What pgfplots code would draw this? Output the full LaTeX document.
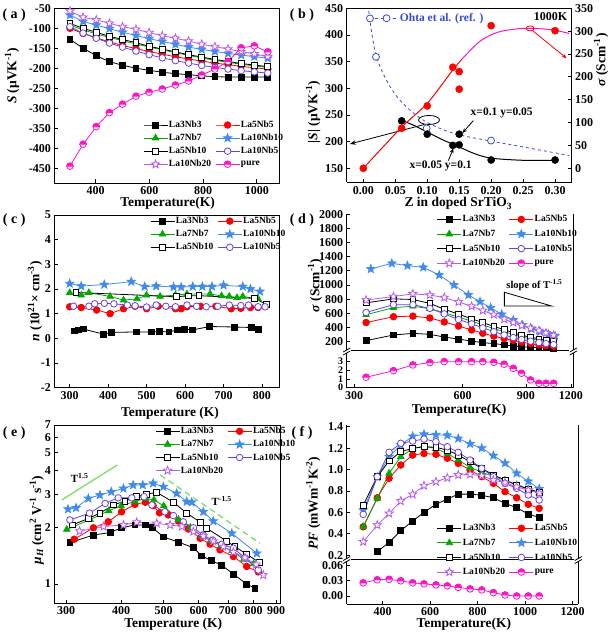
\documentclass[border=0pt]{standalone}
\usepackage{fontspec}
\setmainfont{Liberation Serif}
\usepackage{pgfplots}
\pgfplotsset{compat=1.18}
\usetikzlibrary{plotmarks,arrows.meta}

\definecolor{cRed}{RGB}{255,0,0}
\definecolor{cGreen}{RGB}{0,170,0}
\definecolor{cBlue}{RGB}{65,140,235}
\definecolor{cVio}{RGB}{100,65,225}
\definecolor{cLil}{RGB}{180,90,240}
\definecolor{cPure}{RGB}{255,20,200}
\definecolor{cOhta}{RGB}{55,75,215}
\definecolor{cLG}{RGB}{120,225,100}

\pgfdeclareplotmark{starx}{%
  \pgfpathmoveto{\pgfpointpolar{90}{\pgfplotmarksize}}%
  \pgfpathlineto{\pgfpointpolar{126}{0.42\pgfplotmarksize}}%
  \pgfpathlineto{\pgfpointpolar{162}{\pgfplotmarksize}}%
  \pgfpathlineto{\pgfpointpolar{198}{0.42\pgfplotmarksize}}%
  \pgfpathlineto{\pgfpointpolar{234}{\pgfplotmarksize}}%
  \pgfpathlineto{\pgfpointpolar{270}{0.42\pgfplotmarksize}}%
  \pgfpathlineto{\pgfpointpolar{306}{\pgfplotmarksize}}%
  \pgfpathlineto{\pgfpointpolar{342}{0.42\pgfplotmarksize}}%
  \pgfpathlineto{\pgfpointpolar{18}{\pgfplotmarksize}}%
  \pgfpathlineto{\pgfpointpolar{54}{0.42\pgfplotmarksize}}%
  \pgfpathclose
  \pgfusepathqfillstroke
}
\pgfdeclareplotmark{halfpure}{%
  \pgfpathcircle{\pgfpointorigin}{\pgfplotmarksize}%
  \pgfsetfillcolor{white}%
  \pgfusepathqfillstroke
  \pgfpathmoveto{\pgfqpoint{\pgfplotmarksize}{0pt}}%
  \pgfpatharc{0}{180}{\pgfplotmarksize}%
  \pgfpathclose
  \pgfsetfillcolor{cPure}%
  \pgfusepathqfillstroke
}

\pgfplotsset{
 base/.style={
   scale only axis, anchor=south west, clip=false,
   tick align=inside, tick pos=left,
   major tick length=3.5pt, minor tick length=0pt,
   scaled ticks=false,
   axis line style={line width=0.9pt},
   every tick/.style={black, line width=0.8pt},
   tick label style={font=\bfseries\fontsize{12}{12}\selectfont},
   label style={font=\bfseries\fontsize{13.5}{14}\selectfont},
   /pgf/number format/assume math mode=true,
   /pgf/number format/1000 sep={},
   legend cell align=left, legend columns=2,
   legend style={draw=none, fill=none, inner sep=0pt,
      font=\bfseries\fontsize{9.5}{10}\selectfont,
      nodes={inner sep=1pt}, row sep=3pt,
      /tikz/every even column/.append style={column sep=3pt}},
   legend image code/.code={\draw[mark repeat=2,mark phase=2,##1] plot coordinates {(0pt,0pt)(12pt,0pt)(24pt,0pt)};},
 },
 sA/.style={black, line width=0.8pt, mark=square*, mark size=2.9pt, mark options={solid,fill=black}},
 sB/.style={cRed, line width=0.8pt, mark=*, mark size=3.3pt, mark options={solid,fill=cRed}},
 sC/.style={cGreen, line width=0.8pt, mark=triangle*, mark size=3.7pt, mark options={solid,fill=cGreen}},
 sD/.style={cBlue, line width=0.8pt, mark=starx, mark size=4.3pt, mark options={solid,fill=cBlue}},
 sE/.style={black, line width=0.8pt, mark=square*, mark size=2.9pt, mark options={solid,fill=white}},
 sF/.style={cVio, line width=0.8pt, mark=*, mark size=3.3pt, mark options={solid,fill=white}},
 sG/.style={cLil, line width=0.8pt, mark=starx, mark size=4.3pt, mark options={solid,fill=white}},
 sH/.style={cPure, line width=0.8pt, mark=halfpure, mark size=3.3pt, mark options={solid}},
}

\begin{document}
\begin{tikzpicture}
\useasboundingbox (0pt,0pt) rectangle (614pt,635pt);

% ================= (a) =================
\begin{axis}[base, at={(54.3pt,452pt)}, width=225pt, height=174.7pt,
  xmin=245.7, xmax=1084, ymin=-487, ymax=-50,
  xtick={400,600,800,1000},
  ytick={-450,-400,-350,-300,-250,-200,-150,-100,-50},
  yticklabels={-450,-400,-350,-300,-250,-200,-150,-100,-50},
  xlabel={Temperature(K)}, ylabel={\textit{S} (μVK\textsuperscript{-1})},
  xlabel style={at={(axis description cs:0.504,-0.118)}, anchor=center},
  ylabel style={at={(axis description cs:-0.188,0.613)}, anchor=center},
  legend style={at={(axis description cs:0.394,0.362)}, anchor=north west},
]
\addplot[sA] coordinates {(304,-127.5)(353,-150)(402,-168.5)(451,-183.5)(500,-192.5)(550,-200)(599,-205)(648,-210)(697,-213.5)(746,-216)(795,-219)(844,-221)(893,-222)(942,-222)(991,-222)(1041,-222)};
\addlegendentry{La3Nb3}
\addplot[sB] coordinates {(304,-100)(353,-113)(402,-124)(451,-134)(500,-143)(550,-151)(599,-158)(648,-165)(697,-171)(746,-177)(795,-182)(844,-187)(893,-191)(942,-195)(991,-199)(1041,-202)};
\addlegendentry{La5Nb5}
\addplot[sC] coordinates {(304,-92)(353,-104)(402,-114)(451,-123)(500,-131)(550,-139)(599,-147)(648,-154)(697,-161)(746,-168)(795,-174)(844,-180)(893,-185)(942,-190)(991,-194)(1041,-198)};
\addlegendentry{La7Nb7}
\addplot[sD] coordinates {(304,-67)(353,-83)(402,-92)(451,-101)(500,-110)(550,-118)(599,-126)(648,-133)(697,-140)(746,-147)(795,-153)(844,-158)(893,-163)(942,-167)(991,-171)(1041,-175)};
\addlegendentry{La10Nb10}
\addplot[sE] coordinates {(304,-88)(353,-100)(402,-110)(451,-120)(500,-128)(550,-136)(599,-145)(648,-152)(697,-159)(746,-166)(795,-172)(844,-178)(893,-183)(942,-188)(991,-192)(1041,-196)};
\addlegendentry{La5Nb10}
\addplot[sF] coordinates {(304,-96)(353,-112)(402,-125)(451,-137)(500,-147)(550,-157)(599,-166)(648,-174)(697,-181)(746,-187)(795,-193)(844,-198)(893,-202)(942,-206)(991,-209)(1041,-212)};
\addlegendentry{La10Nb5}
\addplot[sG] coordinates {(304,-57)(353,-72.5)(402,-79)(451,-87.5)(500,-96)(550,-102.5)(599,-111)(648,-118.5)(697,-125)(746,-132)(795,-140)(844,-146)(893,-152)(942,-158.5)(991,-164)(1041,-171)};
\addlegendentry{La10Nb20}
\addplot[sH] coordinates {(304,-445)(353,-390)(402,-346)(451,-311)(500,-290)(550,-270)(599,-260)(648,-252)(697,-242)(746,-232)(795,-217)(844,-202)(893,-183)(942,-149)(991,-144)(1041,-159)};
\addlegendentry{pure}
\end{axis}

% ================= (b) left =================
\begin{axis}[base, at={(346.7pt,452.5pt)}, width=225pt, height=174.2pt,
  xmin=-0.026, xmax=0.326, ymin=123.4, ymax=450, axis y line*=left,
  xtick={0,0.05,0.1,0.15,0.2,0.25,0.3},
  xticklabels={0.00,0.05,0.10,0.15,0.20,0.25,0.30},
  ytick={150,200,250,300,350,400,450},
  yticklabels={150,200,250,300,350,400,450},
  xlabel={Z in doped SrTiO\textsubscript{3}},
  xlabel style={at={(axis description cs:0.496,-0.122)}, anchor=center},
  legend columns=1,
  legend style={at={(axis description cs:0.121,0.943)}, anchor=west, font=\bfseries\fontsize{11.5}{12}\selectfont, text=cOhta},
]
\addlegendimage{cOhta, dashed, line width=0.8pt, mark=*, mark size=3.5pt, mark options={solid, fill=white}}
\addlegendentry{Ohta et al. (ref. )}
\addplot[cOhta, dashed, line width=0.8pt, smooth, forget plot] coordinates {(0.0085,445)(0.013,405)(0.0198,362)(0.03,330)(0.045,297)(0.06,274)(0.08,252)(0.1,236)(0.13,220)(0.16,210)(0.2,201)(0.25,190)(0.3,179)(0.322,174)};
\addplot[cOhta, only marks, mark=*, mark size=3.5pt, mark options={fill=white}, line width=0.8pt, forget plot] coordinates {(0.0104,431)(0.0198,359)(0.0991,225)(0.1998,202)};
\addplot[black, smooth, line width=1pt, forget plot] coordinates {(0.06,240)(0.08,230)(0.1,218)(0.125,203)(0.15,190)(0.175,177)(0.2,169)(0.25,165)(0.3,165)};
\addplot[black, only marks, mark=*, mark size=3.6pt, forget plot] coordinates {(0.06,239)(0.10,214)(0.14,193)(0.15,194)(0.15,214)(0.20,165.6)(0.30,165.6)};
\draw[line width=0.8pt] (axis cs:0.1028,240.6) ellipse [x radius=10.5pt, y radius=4.5pt];
\draw[-{Stealth[length=6pt]}, line width=0.8pt] (axis cs:0.095,232) -- (axis cs:-0.021,195.6);
\draw[-{Stealth[length=5pt]}, line width=0.8pt] (axis cs:0.172,239.4) -- (axis cs:0.155,216);
\draw[-{Stealth[length=5pt]}, line width=0.8pt] (axis cs:0.133,164.4) -- (axis cs:0.141,187.5);
\node[font=\bfseries\fontsize{11.5}{12}\selectfont] at (axis cs:0.2165,254.4) {x=0.1 y=0.05};
\node[font=\bfseries\fontsize{11.5}{12}\selectfont] at (axis cs:0.121,155) {x=0.05 y=0.1};
\node[font=\bfseries\fontsize{12}{12}\selectfont] at (axis cs:0.293,434.4) {1000K};
\end{axis}

% ================= (b) right =================
\begin{axis}[base, at={(346.7pt,452.5pt)}, width=225pt, height=174.2pt,
  xmin=-0.026, xmax=0.326, ymin=-31.1, ymax=350,
  axis y line*=right, axis x line=none, ytick pos=right,
  ytick={0,50,100,150,200,250,300,350},
  yticklabels={0,50,100,150,200,250,300,350},
]
\addplot[cRed, line width=1pt, smooth] coordinates {(0,0)(0.06,90)(0.1,142)(0.14,215)(0.155,240)};
\addplot[cPure, line width=1pt, smooth] coordinates {(0.155,240)(0.18,275)(0.2,292)(0.22,301)(0.25,306)(0.28,305)(0.3,302)(0.322,295)};
\addplot[cRed, only marks, mark=*, mark size=3.6pt] coordinates {(0,0)(0.06,87.6)(0.10,136.4)(0.14,221)(0.15,211.5)(0.15,173)(0.20,312)(0.30,301)};
\draw[cRed, line width=0.8pt] (axis cs:0.261,306) ellipse [x radius=4pt, y radius=2.5pt];
\draw[cRed, -{Stealth[length=5pt]}, line width=0.8pt] (axis cs:0.264,302) -- (axis cs:0.318,240.6);
\end{axis}

% ================= (c) =================
\begin{axis}[base, at={(54.3pt,247.3pt)}, width=225pt, height=172.7pt,
  xmin=260, xmax=845, ymin=-2, ymax=5,
  xtick={300,400,500,600,700,800}, ytick={-2,-1,0,1,2,3,4,5},
  yticklabels={-2,-1,0,1,2,3,4,5},
  xlabel={Temperature (K)}, ylabel={\textit{n} (10\textsuperscript{21}× cm\textsuperscript{-3})},
  xlabel style={at={(axis description cs:0.514,-0.15)}, anchor=center},
  ylabel style={at={(axis description cs:-0.086,0.5)}, anchor=center},
  legend style={at={(axis description cs:0.425,0.995)}, anchor=north west},
]
\addplot[sA] coordinates {(313,0.30)(322,0.34)(335,0.38)(388,0.17)(408,0.24)(473,0.26)(512,0.26)(534,0.28)(558,0.26)(580,0.34)(599,0.37)(619,0.34)(664,0.48)(729,0.46)(772,0.44)(790,0.37)};
\addlegendentry{La3Nb3}
\addplot[sB] coordinates {(300,1.28)(330,1.25)(370,1.15)(405,1.0)(440,1.2)(470,1.3)(500,1.2)(530,1.3)(575,1.2)(590,1.2)(605,1.28)(640,1.3)(680,1.3)(720,1.2)(745,1.22)(770,1.25)(790,1.25)};
\addlegendentry{La5Nb5}
\addplot[sC] coordinates {(300,1.85)(330,1.75)(350,1.85)(405,1.7)(440,1.55)(475,1.6)(500,1.75)(535,1.7)(575,1.75)(605,1.8)(665,1.8)(695,1.72)(715,1.7)(735,1.65)(750,1.7)(790,1.6)};
\addlegendentry{La7Nb7}
\addplot[sD] coordinates {(300,2.22)(330,2.12)(390,2.18)(460,2.3)(495,2.1)(525,2.12)(570,2.08)(590,2.08)(620,2.1)(645,2.1)(670,2.1)(700,2.15)(750,2.1)(770,2.0)(795,1.9)};
\addlegendentry{La10Nb10}
\addplot[sE] coordinates {(316,1.86)(577,1.69)(608,1.72)(636,1.73)(781,1.62)(811,1.38)};
\addlegendentry{La5Nb10}
\addplot[sF] coordinates {(310,1.3)(350,1.3)(365,1.4)(390,1.42)(415,1.4)(450,1.35)(470,1.32)(500,1.27)(525,1.35)(550,1.3)(575,1.28)(605,1.35)(630,1.3)(655,1.28)(685,1.3)(715,1.35)(745,1.33)(765,1.35)(790,1.28)(808,1.28)};
\addlegendentry{La10Nb5}
\end{axis}

% ================= (d) upper =================
\begin{axis}[base, at={(346.7pt,285pt)}, width=226.6pt, height=135.8pt,
  xmode=log, xmin=286.3, xmax=1218, ymin=82, ymax=2000,
  axis x line*=top, xtick=\empty,
  ytick={200,400,600,800,1000,1200,1400,1600,1800,2000},
  yticklabels={200,400,600,800,1000,1200,1400,1600,1800,2000},
  ylabel={\textit{σ} (Scm\textsuperscript{-1})},
  ylabel style={at={(axis description cs:-0.14,0.475)}, anchor=center},
  legend style={at={(axis description cs:0.397,1.0)}, anchor=north west, row sep=4.5pt},
]
\addplot[sA] coordinates {(324,214)(386,294)(437,317)(487,303)(534,265)(585,235)(636,209)(683,185)(733,173)(783,155)(830,138)(875,129)(927,120)(978,115)(1023,112)(1074,110)};
\addlegendentry{La3Nb3}
\addplot[sB] coordinates {(324,470)(386,552)(437,560)(487,534)(534,478)(585,420)(636,365)(683,318)(733,278)(783,242)(830,218)(875,193)(927,172)(978,155)(1023,142)(1074,130)};
\addlegendentry{La5Nb5}
\addplot[sC] coordinates {(324,580)(386,680)(437,700)(487,665)(534,610)(585,545)(636,490)(683,435)(733,385)(783,340)(830,300)(875,265)(927,240)(978,220)(1023,200)(1074,185)};
\addlegendentry{La7Nb7}
\addplot[sD] coordinates {(334,1226)(382,1306)(422,1273)(467,1250)(517,1141)(568,1000)(623,859)(671,764)(718,679)(771,586)(830,506)(881,435)(934,379)(985,341)(1038,308)(1084,280)};
\addlegendentry{La10Nb10}
\addplot[sE] coordinates {(324,748)(386,804)(437,795)(487,740)(534,658)(585,588)(636,522)(683,470)(733,414)(783,370)(830,325)(875,290)(927,263)(978,240)(1023,216)(1074,200)};
\addlegendentry{La5Nb10}
\addplot[sF] coordinates {(324,612)(386,722)(437,722)(487,670)(534,592)(585,512)(636,452)(683,395)(733,341)(783,294)(830,258)(875,230)(927,206)(978,188)(1023,172)(1074,157)};
\addlegendentry{La10Nb5}
\addplot[sG] coordinates {(324,788)(386,837)(437,875)(487,858)(534,823)(585,760)(636,700)(683,640)(733,581)(783,517)(830,470)(875,428)(927,390)(978,357)(1023,324)(1074,289)};
\addlegendentry{La10Nb20}
\addlegendimage{sH}
\addlegendentry{pure}
\draw[line width=0.8pt] (axis cs:784,897) -- (axis cs:784,703) -- (axis cs:1061,703) -- cycle;
\node[font=\bfseries\fontsize{10.5}{11}\selectfont] at (axis cs:950,1000) {slope of T\textsuperscript{-1.5}};
\end{axis}

% ================= (d) lower =================
\begin{axis}[base, at={(346.7pt,247.3pt)}, width=226.6pt, height=34.7pt,
  xmode=log, xmin=286.3, xmax=1218, ymin=0, ymax=4,
  axis x line*=bottom,
  xtick={300,600,900,1200}, xticklabels={300,600,900,1200},
  ytick={0,1,2,3}, yticklabels={0,1,2,3},
  yticklabel style={font=\bfseries\fontsize{10}{10}\selectfont},
  xlabel={Temperature(K)},
  xlabel style={at={(axis description cs:0.496,-0.643)}, anchor=center},
]
\addplot[sH] coordinates {(324,1.2)(386,1.96)(437,2.62)(487,2.89)(534,3.0)(585,3.0)(636,3.0)(683,3.0)(733,2.92)(783,2.7)(830,2.23)(875,1.66)(927,0.89)(978,0.5)(1023,0.5)(1074,0.5)};
\end{axis}

% ================= (e) =================
\begin{axis}[base, at={(54.3pt,31.7pt)}, width=225.7pt, height=178.3pt,
  xmode=log, ymode=log, xmin=282, xmax=919, ymin=0.79, ymax=7,
  xtick={300,400,500,600,700,800,900}, xticklabels={300,400,500,600,700,800,900},
  ytick={1,2,3,4,5,6,7}, yticklabels={1,2,3,4,5,6,7},
  xlabel={Temperature (K)},
  ylabel={\textit{μ}\textsubscript{\textit{H}} (cm\textsuperscript{2} V\textsuperscript{-1} s\textsuperscript{-1})},
  xlabel style={at={(axis description cs:0.527,-0.12)}, anchor=center},
  ylabel style={at={(axis description cs:-0.078,0.467)}, anchor=center},
  legend style={at={(axis description cs:0.446,0.994)}, anchor=north west},
]
\addplot[cLG, line width=1.3pt, forget plot] coordinates {(293,2.795)(392,4.29)};
\addplot[cLG, line width=1.3pt, dash pattern=on 6pt off 4pt, forget plot] coordinates {(491,3.80)(828,1.645)};
\addplot[sA] coordinates {(306,1.66)(346,1.82)(378,1.88)(401,1.99)(430,2.06)(454,2.06)(472,1.99)(499,1.78)(540,1.67)(584,1.56)(610,1.41)(643,1.33)(677,1.26)(720,1.13)(772,1.0)(806,0.95)};
\addlegendentry{La3Nb3}
\addplot[sB] coordinates {(313,1.73)(346,1.99)(374,2.14)(401,2.42)(430,2.65)(454,2.72)(473,2.61)(489,2.39)(512,2.33)(540,2.16)(569,1.96)(605,1.75)(637,1.63)(671,1.52)(720,1.40)(772,1.24)(820,1.16)};
\addlegendentry{La5Nb5}
\addplot[sC] coordinates {(301,1.95)(340,2.2)(375,2.45)(400,2.6)(430,2.75)(455,2.85)(475,2.8)(500,2.6)(540,2.2)(575,2.0)(610,1.8)(640,1.7)(675,1.6)(715,1.5)(760,1.35)(800,1.28)};
\addlegendentry{La7Nb7}
\addplot[sD] coordinates {(303,2.50)(316,2.54)(337,2.85)(358,2.97)(380,3.09)(405,3.22)(426,3.36)(448,3.36)(473,3.43)(499,3.29)(535,3.03)(564,2.74)(579,2.72)(615,2.42)(648,2.16)(714,1.86)(814,1.456)};
\addlegendentry{La10Nb10}
\addplot[sE] coordinates {(310,2.06)(337,2.23)(358,2.38)(384,2.63)(408,2.76)(434,2.91)(457,3.0)(482,3.07)(526,2.72)(564,2.38)(605,2.13)(626,1.98)(695,1.69)(726,1.58)(772,1.44)(825,1.30)};
\addlegendentry{La5Nb10}
\addplot[sF] coordinates {(306,2.19)(339,2.38)(368,2.68)(394,2.87)(423,2.87)(451,2.91)(470,2.63)(503,2.42)(526,2.31)(554,2.14)(584,1.99)(615,1.82)(646,1.71)(677,1.625)(720,1.55)(765,1.38)(820,1.187)};
\addlegendentry{La10Nb5}
\addplot[sG] coordinates {(322,1.91)(365,2.02)(405,2.06)(434,2.13)(482,2.10)(517,2.06)(550,2.02)(584,1.90)(615,1.80)(648,1.69)(683,1.58)(720,1.48)(765,1.38)(811,1.27)(842,1.116)};
\addlegendentry{La10Nb20}
\node[font=\bfseries\fontsize{11}{11}\selectfont] at (axis cs:322,3.67) {T\textsuperscript{1.5}};
\node[font=\bfseries\fontsize{11}{11}\selectfont] at (axis cs:677,2.76) {T\textsuperscript{-1.5}};
\end{axis}

% ================= (f) upper =================
\begin{axis}[base, at={(346.7pt,76pt)}, width=231.6pt, height=134pt,
  xmin=248.4, xmax=1223.6, ymin=0.164, ymax=1.416,
  axis x line*=top, xtick=\empty,
  ytick={0.2,0.4,0.6,0.8,1.0,1.2,1.4}, yticklabels={0.2,0.4,0.6,0.8,1.0,1.2,1.4},
  ylabel={\textit{PF} (mWm\textsuperscript{-1}K\textsuperscript{-2})},
  ylabel style={at={(axis description cs:-0.144,0.418)}, anchor=center},
]
\addplot[sA] coordinates {(377,0.232)(427,0.32)(476,0.428)(526,0.519)(574,0.60)(624,0.675)(672,0.724)(718,0.77)(768,0.77)(817,0.76)(866,0.736)(915,0.684)(964,0.643)(1013,0.584)(1059,0.553)};
\addplot[sB] coordinates {(318,0.465)(377,0.736)(427,0.918)(476,1.042)(526,1.135)(574,1.15)(624,1.142)(672,1.105)(718,1.058)(768,0.995)(817,0.933)(866,0.871)(915,0.793)(964,0.736)(1013,0.675)(1059,0.637)};
\addplot[sC] coordinates {(318,0.465)(377,0.73)(427,0.965)(476,1.12)(526,1.195)(574,1.22)(624,1.195)(672,1.15)(718,1.09)(768,1.02)(817,0.975)(866,0.935)(915,0.90)(964,0.856)(1013,0.82)(1059,0.78)};
\addplot[sD] coordinates {(318,0.62)(377,0.93)(427,1.12)(476,1.23)(526,1.31)(574,1.33)(624,1.325)(672,1.32)(718,1.29)(768,1.24)(817,1.20)(866,1.13)(915,1.06)(964,0.965)(1013,0.89)(1059,0.82)};
\addplot[sE] coordinates {(318,0.668)(377,0.933)(427,1.08)(476,1.166)(526,1.198)(574,1.213)(624,1.207)(672,1.182)(718,1.135)(768,1.073)(817,1.011)(866,0.949)(915,0.902)(964,0.855)(1013,0.818)(1059,0.787)};
\addplot[sF] coordinates {(318,0.581)(377,0.933)(427,1.161)(476,1.245)(526,1.266)(574,1.285)(624,1.26)(672,1.213)(718,1.161)(768,1.089)(817,1.011)(866,0.933)(915,0.871)(964,0.824)(1013,0.762)(1059,0.715)};
\addplot[sG] coordinates {(318,0.325)(377,0.481)(427,0.59)(476,0.706)(526,0.768)(574,0.849)(624,0.886)(672,0.923)(718,0.949)(768,0.955)(817,0.942)(866,0.902)(915,0.877)(964,0.839)(1013,0.808)(1059,0.778)};
\end{axis}

% ================= (f) lower =================
\begin{axis}[base, at={(346.7pt,30.7pt)}, width=231.6pt, height=43.3pt,
  xmin=248.4, xmax=1223.6, ymin=-0.0164, ymax=0.0693,
  axis x line*=bottom, xtick={400,600,800,1000,1200},
  xticklabels={400,600,800,1000,1200},
  ytick={0,0.03,0.06}, yticklabels={0.00,0.03,0.06},
  xlabel={Temperature(K)},
  xlabel style={at={(axis description cs:0.506,-0.47)}, anchor=center},
  legend style={at={(axis description cs:0.389,1.877)}, anchor=north west, row sep=4.5pt},
]
\addlegendimage{sA}\addlegendentry{La3Nb3}
\addlegendimage{sB}\addlegendentry{La5Nb5}
\addlegendimage{sC}\addlegendentry{La7Nb7}
\addlegendimage{sD}\addlegendentry{La10Nb10}
\addlegendimage{sE}\addlegendentry{La5Nb10}
\addlegendimage{sF}\addlegendentry{La10Nb5}
\addlegendimage{sG}\addlegendentry{La10Nb20}
\addplot[sH] coordinates {(318,0.026)(377,0.032)(427,0.033)(476,0.030)(526,0.026)(574,0.024)(624,0.022)(672,0.020)(718,0.017)(768,0.014)(817,0.012)(866,0.0066)(915,0.002)(964,0.0)(1013,0.0)(1059,0.0)};
\addlegendentry{pure}
\end{axis}

% break marks, (b) axis titles and panel labels
\begin{scope}[x=1pt,y=1pt]
\foreach \xx/\yy in {346.7/283.5, 573.3/283.5, 346.7/75, 578.3/75} {
  \fill[white] (\xx-4,\yy-1.2) rectangle (\xx+4,\yy+1.2);
  \draw[line width=0.8pt] (\xx-3.5,\yy-3.5) -- (\xx+3.5,\yy+0.5);
  \draw[line width=0.8pt] (\xx-3.5,\yy-0.5) -- (\xx+3.5,\yy+3.5);
}
\node[rotate=90, font=\bfseries\fontsize{13.5}{14}\selectfont] at (313,523) {|\textit{S}| (μVK\textsuperscript{-1})};
\node[rotate=90, font=\bfseries\fontsize{13.5}{14}\selectfont] at (601,575) {\textit{σ} (Scm\textsuperscript{-1})};
\node[font=\bfseries\fontsize{14}{14}\selectfont] at (14.2,620) {( a )};
\node[font=\bfseries\fontsize{14}{14}\selectfont] at (302,620) {( b )};
\node[font=\bfseries\fontsize{14}{14}\selectfont] at (14.2,415) {( c )};
\node[font=\bfseries\fontsize{14}{14}\selectfont] at (302,415) {( d )};
\node[font=\bfseries\fontsize{14}{14}\selectfont] at (14.2,201.7) {( e )};
\node[font=\bfseries\fontsize{14}{14}\selectfont] at (302,201.7) {( f )};
\end{scope}
\end{tikzpicture}
\end{document}
